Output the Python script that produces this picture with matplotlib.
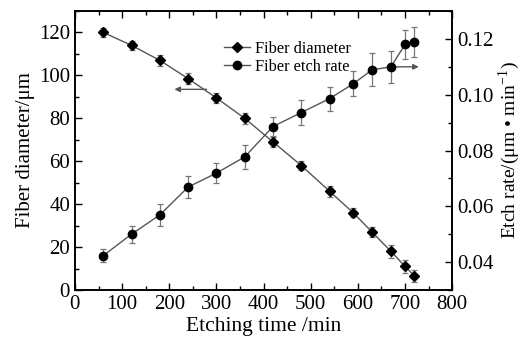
import matplotlib.pyplot as plt
from matplotlib.ticker import MultipleLocator

plt.rcParams['font.family'] = ['Liberation Serif', 'DejaVu Serif']
plt.rcParams['mathtext.fontset'] = 'stix'

time_d = [60, 120, 180, 240, 300, 360, 420, 480, 540, 590, 630, 670, 700, 720]
diameter = [120, 114, 107, 98.5, 89.5, 80, 69, 58, 46, 36, 27, 18, 11, 6.5]
diameter_err = [2, 2, 2.5, 2.5, 2.5, 2.5, 2.5, 2, 2.5, 2, 2.5, 3, 3, 3]

time_r = [60, 120, 180, 240, 300, 360, 420, 480, 540, 590, 630, 670, 700, 720]
etch_rate = [0.0423, 0.050, 0.0569, 0.0669, 0.0719, 0.0777, 0.0886, 0.0936,
             0.0986, 0.1039, 0.1089, 0.110, 0.118, 0.119]
etch_err = [0.0023, 0.003, 0.004, 0.004, 0.0035, 0.0042, 0.0034, 0.0046,
            0.0043, 0.0045, 0.0059, 0.0057, 0.0052, 0.0054]

line_c = '#555555'
err_c = '#777777'
fs = 15

fig = plt.figure(figsize=(5.24, 3.44), dpi=100)
ax = fig.add_axes([0.143, 0.157, 0.72, 0.811])
ax2 = ax.twinx()

ax.errorbar(time_d, diameter, yerr=diameter_err, color=line_c, ecolor=err_c,
            elinewidth=0.9, capsize=2.5, capthick=0.9, lw=1.0,
            marker='D', ms=5.5, mfc='black', mec='black', zorder=3)
ax2.errorbar(time_r, etch_rate, yerr=etch_err, color=line_c, ecolor=err_c,
             elinewidth=0.9, capsize=2.5, capthick=0.9, lw=1.0,
             marker='o', ms=6, mfc='black', mec='black', zorder=3)

# legend proxies
h1, = ax.plot([], [], color=line_c, marker='D', ms=5.5, mfc='black', mec='black',
              lw=1.0, label='Fiber diameter')
h2, = ax.plot([], [], color=line_c, marker='o', ms=6, mfc='black', mec='black',
              lw=1.0, label='Fiber etch rate')
ax.legend(handles=[h1, h2], loc='upper left', bbox_to_anchor=(0.365, 0.935),
          frameon=False, fontsize=11.8, handlelength=1.6, handletextpad=0.3,
          labelspacing=0.15, borderpad=0.2)

# direction arrows
ax.annotate('', xy=(205, 93.5), xytext=(285, 93.5),
            arrowprops=dict(arrowstyle='-|>', color=line_c, lw=1.0,
                            mutation_scale=8))
ax2.annotate('', xy=(735, 0.110), xytext=(670, 0.110),
             arrowprops=dict(arrowstyle='-|>', color=line_c, lw=1.0,
                             mutation_scale=8))

ax.set_xlim(0, 800)
ax.set_ylim(0, 130)
ax2.set_ylim(0.03, 0.13)

ax.xaxis.set_major_locator(MultipleLocator(100))
ax.xaxis.set_minor_locator(MultipleLocator(50))
ax.yaxis.set_major_locator(MultipleLocator(20))
ax.yaxis.set_minor_locator(MultipleLocator(10))
ax2.yaxis.set_minor_locator(MultipleLocator(0.01))
ax2.set_yticks([0.04, 0.06, 0.08, 0.10, 0.12])
ax2.set_yticklabels(['0.04', '0.06', '0.08', '0.10', '0.12'])

ax.tick_params(which='both', direction='in', top=True, right=False,
               labelsize=fs)
ax.tick_params(which='major', length=5, width=1)
ax.tick_params(which='minor', length=3, width=1)
ax2.tick_params(which='both', direction='in', labelsize=fs)
ax2.tick_params(which='major', length=5, width=1)
ax2.tick_params(which='minor', length=3, width=1)

for a in (ax, ax2):
    for s in a.spines.values():
        s.set_linewidth(1.2)

ax.set_xlabel('Etching time /min', fontsize=15.5, labelpad=2)
ax.set_ylabel('Fiber diameter/μm', fontsize=15, labelpad=3)
ax2.set_ylabel(r'Etch rate/(μm • min$^{\mathregular{-1}}$)', fontsize=14,
               labelpad=2)

plt.savefig('out.png', dpi=100)
